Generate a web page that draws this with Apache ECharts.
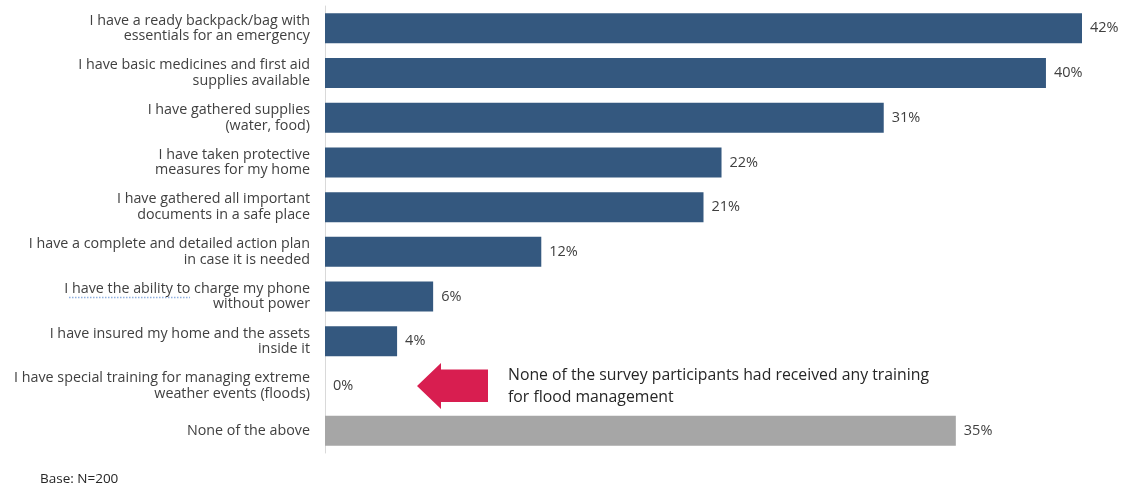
<!DOCTYPE html>
<html>
<head>
<meta charset="utf-8">
<script src="https://cdn.jsdelivr.net/npm/echarts@6/dist/echarts.min.js"></script>
<style>
  html, body { margin: 0; padding: 0; background: #ffffff; }
  #chart { width: 1127px; height: 488px; }
</style>
</head>
<body>
<div id="chart"></div>
<script>
// Emergency preparedness actions (share of respondents, %)
const categories = [
  'I have a ready backpack/bag with\nessentials for an emergency',
  'I have basic medicines and first aid\nsupplies available',
  'I have gathered supplies\n(water, food)',
  'I have taken protective\nmeasures for my home',
  'I have gathered all important\ndocuments in a safe place',
  'I have a complete and detailed action plan\nin case it is needed',
  'I have the ability to charge my phone\nwithout power',
  'I have insured my home and the assets\ninside it',
  'I have special training for managing extreme\nweather events (floods)',
  'None of the above'
];
const values = [42, 40, 31, 22, 21, 12, 6, 4, 0, 35];
const noneIndex = 9;
const trainingIndex = 8;
const noteText = 'None of the survey participants had received any training\nfor flood management';
const baseText = 'Base: N=200';

const FONT = '"Open Sans", "Noto Sans", sans-serif';
const BLUE = '#34587f';
const GREY = '#a6a6a6';
const TEXT = '#404040';

const chart = echarts.init(document.getElementById('chart'), null, { renderer: 'canvas' });

const seriesData = values.map((v, i) => ({
  value: v,
  itemStyle: { color: i === noneIndex ? GREY : BLUE }
}));

chart.setOption({
  animation: false,
  backgroundColor: '#ffffff',
  grid: { left: 325, right: 45, top: 6, bottom: 35, containLabel: false },
  xAxis: {
    type: 'value', min: 0, max: 42, show: false,
    splitLine: { show: false }
  },
  yAxis: {
    type: 'category',
    inverse: true,
    data: categories,
    axisLine: { show: true, lineStyle: { color: '#d9d9d9', width: 1 } },
    axisTick: { show: false },
    axisLabel: {
      margin: 15,
      color: TEXT,
      fontFamily: FONT,
      fontSize: 14.3,
      lineHeight: 15.5,
      align: 'right'
    }
  },
  series: [{
    type: 'bar',
    data: seriesData,
    barWidth: 30,
    label: {
      show: true,
      position: 'right',
      distance: 8,
      color: TEXT,
      fontFamily: FONT,
      fontSize: 14.5,
      formatter: p => p.value + '%'
    }
  }]
});

// Annotation arrow and note next to the zero-value category, plus the base note
function drawNotes() {
  const origin = chart.convertToPixel({ gridIndex: 0 }, [0, trainingIndex]);
  const cx = origin[0];
  const cy = origin[1];
  const tipX = cx + 92;
  const headX = tipX + 24;
  const endX = tipX + 71;
  chart.setOption({
    graphic: [
      {
        type: 'polygon',
        shape: {
          points: [
            [tipX, cy],
            [headX, cy - 23],
            [headX, cy - 16.5],
            [endX, cy - 16.5],
            [endX, cy + 16],
            [headX, cy + 16],
            [headX, cy + 23]
          ]
        },
        style: { fill: '#d81e50' }
      },
      {
        type: 'text',
        x: endX + 20,
        y: cy + 1,
        style: {
          text: noteText,
          font: '15.8px ' + FONT,
          fill: '#262626',
          lineHeight: 22,
          textVerticalAlign: 'middle'
        }
      },
      {
        type: 'text',
        x: 40,
        y: 479,
        style: {
          text: baseText,
          font: '13.5px ' + FONT,
          fill: '#262626',
          textVerticalAlign: 'middle'
        }
      },
      {
        // dotted underline beneath "have the ability to"
        type: 'line',
        shape: { x1: 69, y1: 297.5, x2: 190, y2: 297.5 },
        style: { stroke: '#8fb0e0', lineWidth: 1.5, lineDash: [1.5, 1.5] }
      }
    ]
  });
}
drawNotes();
</script>
</body>
</html>
